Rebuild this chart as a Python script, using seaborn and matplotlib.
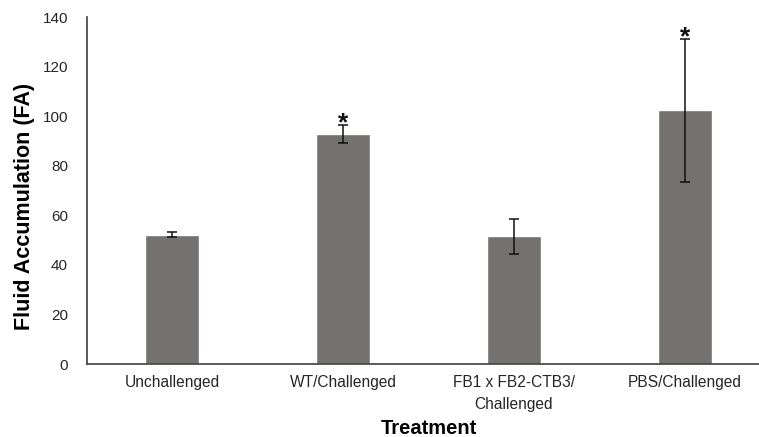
import numpy as np
import pandas as pd
import matplotlib
matplotlib.use('Agg')
import matplotlib.pyplot as plt
import seaborn as sns

treatments = ['Unchallenged', 'WT/Challenged', 'FB1 x FB2-CTB3/\nChallenged', 'PBS/Challenged']
fa_mean = [52.2, 93.0, 51.5, 102.4]
fa_err = [1.1, 3.6, 7.0, 29.0]
significant = [False, True, False, True]

sns.set_style('white')
plt.rcParams['font.family'] = ['Liberation Sans', 'DejaVu Sans']

df = pd.DataFrame({'treatment': treatments, 'fa': fa_mean, 'err': fa_err})

fig = plt.figure(figsize=(7.59, 4.37), dpi=100)
ax = fig.add_axes([0.1142, 0.167, 0.9004, 0.7934])

sns.barplot(data=df, x='treatment', y='fa', color='#747171', saturation=1,
            width=0.316, errorbar=None, ax=ax)

ax.errorbar(x=np.arange(len(df)), y=df.fa, yerr=df.err, fmt='none',
            ecolor='#111111', elinewidth=1.1, capsize=3.6, capthick=1.1)

# significance stars above the error bars
for i, (m, e, s) in enumerate(zip(fa_mean, fa_err, significant)):
    if s:
        ax.annotate('*', xy=(i, m + e), xytext=(0, -4), textcoords='offset points',
                    ha='center', va='baseline', fontsize=19, fontweight='bold',
                    color='#111111')

ax.set_xlim(-0.5, 3.5)
ax.set_ylim(0, 140)
ax.set_yticks(np.arange(0, 141, 20))

ax.set_xlabel('Treatment', fontsize=14.5, fontweight='bold', color='black')
ax.set_ylabel('Fluid Accumulation (FA)', fontsize=15.5, fontweight='bold', color='black')
ax.xaxis.set_label_coords(0.5, -0.158)
ax.yaxis.set_label_coords(-0.076, 0.455)

ax.tick_params(axis='y', direction='in', length=4, width=1, color='#404040',
               pad=13.5, labelsize=11, labelcolor='#262626')
ax.tick_params(axis='x', length=0, pad=8, labelsize=11.2, labelcolor='#262626')
for lab in ax.get_xticklabels():
    lab.set_linespacing(1.55)

sns.despine(ax=ax)
for sp in ['left', 'bottom']:
    ax.spines[sp].set_color('#404040')
    ax.spines[sp].set_linewidth(1.2)

fig.savefig('out.png', dpi=100)
